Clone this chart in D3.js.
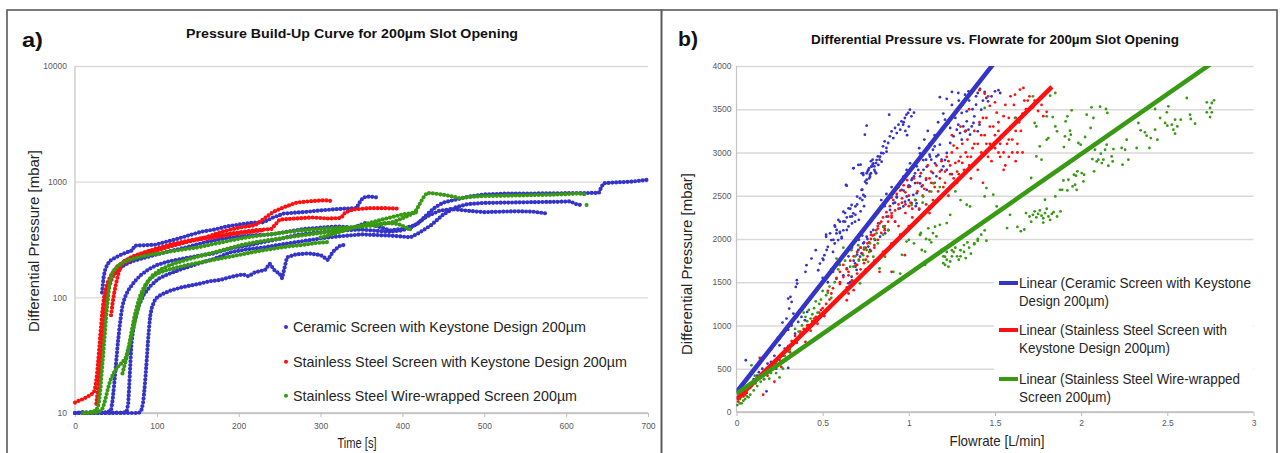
<!DOCTYPE html>
<html>
<head>
<meta charset="utf-8">
<script src="https://cdn.jsdelivr.net/npm/d3@7"></script>
<style>
  body { margin: 0; background: #fff; }
  svg { display: block; }
</style>
</head>
<body>
<svg id="fig" width="1280" height="453"></svg>
<script>
// ---------- shared ----------
const seriesNames = [
  "Ceramic Screen with Keystone Design 200µm",
  "Stainless Steel Screen with Keystone Design 200µm",
  "Stainless Steel Wire-wrapped Screen 200µm"
];
const trendNames = [
  ["Linear (Ceramic  Screen with Keystone", "Design 200µm)"],
  ["Linear (Stainless Steel Screen with", "Keystone Design 200µm)"],
  ["Linear (Stainless Steel Wire-wrapped", "Screen 200µm)"]
];
const seriesColors = ["#3434c8", "#ff1010", "#379a12"];

// ---------- panel a: pressure build-up (time [s], pressure [mbar]) ----------
const timeTicks = [0, 100, 200, 300, 400, 500, 600, 700];
const pressureTicks = [10, 100, 1000, 10000];

const ceramicRuns = [
  [[0,10],[10,10.2],[20,10],[30,10.1],[40,10],[50,10.1],[60,10],[70,10],[78,10],[81,10.5],[83,12],[84.5,15],[86,20],[87.5,28],[89,40],[90.5,55],[92,70],[94,82],[97,93],[101,101],[106,106],[116,114],[130,122],[150,130],[165,138],[177,141],[190,150],[205,158],[212,152],[220,165],[232,172],[238,195],[244,170],[250,160],[253,146],[256,180],[259,222],[270,235],[285,240],[300,232],[305,220],[309,210],[313,235],[317,256],[324,280],[330,285]],
  [[33,110],[35,150],[37,175],[40,195],[44,210],[50,222],[57,235],[63,245],[70,255],[73,280],[85,282],[98,285],[110,300],[125,320],[140,345],[155,370],[170,385],[185,410],[200,425],[215,440],[230,445],[242,490],[255,530],[270,540],[285,550],[300,565],[315,575],[330,585],[344,590],[347,650],[352,730],[360,745],[369,730]],
  [[0,10],[20,10],[35,10],[44,10.5],[46,13],[48,18],[50,26],[52,38],[54,52],[56,68],[58,85],[61,100],[65,115],[72,135],[80,155],[90,175],[100,190],[115,205],[130,215],[150,228],[170,240],[190,265],[210,280],[230,300],[250,320],[270,345],[290,360],[310,370],[330,380],[350,385],[370,375],[385,368],[400,380],[410,400],[420,440],[430,520],[440,600],[450,660],[465,700],[480,740],[500,775],[530,790],[560,790],[600,795],[640,800],[643,900],[646,970],[660,985],[680,1000],[700,1040]],
  [[0,10],[30,10],[55,10],[63,10.2],[65,12],[66,16],[67,22],[68,30],[69,40],[71,52],[74,68],[78,85],[84,105],[92,125],[102,145],[115,160],[130,175],[150,195],[170,215],[190,245],[210,260],[230,270],[250,285],[270,300],[290,315],[310,330],[330,340],[350,350],[370,345],[390,340],[410,330],[420,360],[435,420],[450,520],[465,600],[480,640],[500,655],[530,660],[560,665],[590,670],[605,675],[612,640],[617,630]],
  [[36,100],[40,125],[45,150],[52,170],[60,190],[70,205],[85,220],[100,235],[120,255],[140,275],[160,300],[180,320],[200,335],[220,345],[240,350],[260,370],[280,390],[300,400],[320,410],[340,400],[355,440],[370,410],[385,380],[400,390],[415,420],[430,500],[445,560],[460,580],[480,560],[500,545],[520,550],[540,555],[560,550],[577,530]]
];
const steelRuns = [
  [[0,12.3],[5,12.8],[10,13.2],[15,13.8],[20,14.5],[23,15],[25,17],[27,22],[29,32],[31,48],[33,70],[35,95],[37,115],[40,135],[45,160],[52,185],[60,205],[70,225],[85,245],[100,265],[120,290],[140,310],[160,330],[180,345],[200,365],[220,380],[240,390],[250,470],[270,480],[290,490],[310,480],[325,485],[330,540],[340,575],[360,590],[380,590],[395,585]],
  [[26,12],[28,16],[30,22],[32,32],[34,48],[36,70],[38,95],[41,120],[45,145],[50,170],[58,195],[70,215],[85,235],[100,255],[120,280],[140,305],[160,330],[180,370],[200,400],[220,420],[242,547],[255,600],[271,660],[290,680],[305,690],[315,680]],
  [[44,70],[46,90],[48,110],[50,130],[53,160],[56,190],[60,205],[66,215],[75,230],[90,250],[110,270],[130,295],[150,315],[170,330],[190,350],[210,365],[230,380]]
];
const wireRuns = [
  [[10,10],[14,10],[26,10.5],[29,12],[31,16],[33,24],[35,36],[37,55],[39,80],[41,110],[43,140],[46,165],[50,180],[56,195],[65,210],[75,220],[90,232],[110,245],[130,258],[150,270],[170,290],[190,310],[210,330],[230,345],[250,360],[270,375],[290,385],[310,395],[330,400],[350,410],[370,420],[390,450],[405,500],[415,540],[420,620],[425,720],[430,800],[440,790],[455,760],[470,720],[485,740],[500,750],[520,755],[540,760],[560,765],[580,770],[600,780],[615,790],[625,775]],
  [[625,630]],
  [[12,10],[20,10],[30,10.3],[34,11],[37,13],[40,16],[43,19],[47,22],[52,25],[57,27],[62,30],[66,38],[70,50],[74,65],[78,85],[83,110],[88,135],[95,155],[105,175],[120,195],[140,215],[160,235],[180,255],[200,280],[220,300],[240,315],[260,330],[280,345],[300,360],[320,380],[340,400],[360,420],[380,440],[395,430],[405,400],[412,380]],
  [[58,22],[60,25],[63,30],[66,38],[69,50],[72,65],[76,85],[80,105],[85,125],[92,145],[100,160],[112,172],[125,182],[140,192],[160,205],[180,218],[200,232],[220,248],[240,262],[260,275],[280,285],[295,295],[308,300]],
  [[300,330],[320,360],[340,400],[360,440],[380,480],[400,520],[418,545]]
];

// ---------- panel b: differential pressure vs flowrate ([L/min], [mbar]) ----------
const flowTicks = [0, 0.5, 1, 1.5, 2, 2.5, 3];
const dpTicks = [0, 500, 1000, 1500, 2000, 2500, 3000, 3500, 4000];

const ceramicFlow = [
  [0.02,180],[0.03,220],[0.04,260],[0.054,598],[0.06,300],[0.08,330],[0.10,380],[0.12,420],[0.13,460],[0.15,500],[0.174,239],[0.18,560],[0.20,578],[0.22,650],[0.23,501],[0.24,856],[0.25,771],[0.267,1034],[0.28,733],[0.29,1080],[0.30,1311],[0.30,509],[0.306,1196],[0.31,771],[0.313,1331],[0.32,1273],[0.33,1138],[0.34,906],[0.344,1446],[0.35,1524],[0.352,1485],[0.358,1041],[0.377,1099],[0.397,1061],[0.40,1620],[0.406,1697],[0.41,1157],[0.42,1003],[0.435,1774],[0.445,1041],[0.46,1871],[0.474,1639],[0.484,1716],[0.50,1774],[0.51,1813],[0.52,2025],[0.53,1909],[0.55,1987],[0.56,1851],[0.57,1948],[0.58,2064],[0.59,1987],[0.60,2083],[0.61,2025],
  [0.52,2049],[0.57,2157],[0.60,2200],[0.60,2068],[0.62,2203],[0.63,2300],[0.64,2616],[0.65,2145],[0.67,2260],[0.68,2820],[0.69,2377],[0.70,2490],[0.71,2222],[0.72,2859],[0.73,2570],[0.735,2762],[0.745,3206],[0.755,3310],[0.745,2492],[0.755,2685],[0.764,2800],[0.774,2743],[0.783,2840],[0.79,2917],[0.80,2800],[0.81,2878],[0.82,2955],[0.83,2917],[0.84,2994],[0.85,3071],[0.86,3129],[0.87,3052],[0.88,3110],[0.886,3437],[0.89,3187],[0.90,3245],[0.91,3167],[0.92,3283],[0.93,3225],[0.94,3322],[0.95,3264],[0.957,3360],[0.967,3322],[0.977,3399],[0.986,3437],[0.996,3457],[1.006,3495],[1.015,3418],[0.97,3350],[0.98,3250],[0.99,3200],[1.0,3300],[1.03,3460],
  [0.76,2780],[0.77,2820],[0.78,2760],[0.79,2860],[0.80,2840],[0.77,2700],[0.81,2760],[0.78,2900],
  [0.62,2100],[0.64,2250],[0.66,2350],[0.67,2180],[0.69,2280],[0.70,2400],[0.72,2320],[0.73,2450],[0.74,2380],
  [0.56,1620],[0.58,1540],[0.60,1700],[0.62,1580],[0.64,1660],[0.66,1500],[0.68,1750],[0.70,1820],[0.72,1900],[0.74,1960],[0.76,2000],[0.78,2080],[0.65,1800],[0.67,1900],[0.69,1680],[0.71,1990],[0.73,2040],
  [0.84,2450],[0.87,2520],[0.90,2600],[0.93,2480],[0.95,2650],[0.97,2560],[1.0,2620],[1.02,2700],[0.86,2380],[0.92,2420],
  [1.14,3032],[1.16,2955],[1.13,2917],[1.10,2917],[1.12,2975],[1.18,3090],[1.19,2917],[1.085,2800],[1.065,2724],[1.03,2724],[1.046,2840],[1.007,2608],[1.036,2647],[1.075,2608],[0.988,2492],[1.016,2415],[0.968,2377],[1.046,2530],[1.10,2685],[1.14,2762],[1.16,2724],[1.20,2840],[1.22,2994],[1.24,3110],[1.21,3380],[1.23,3341],[1.24,3283],[1.26,3187],[1.278,3264],[1.287,3322],[1.297,3225],[1.307,3148],[1.316,3302],[1.326,3245],[1.336,3360],[1.346,3264],[1.355,3206],[1.365,3302],[1.375,3341],[1.278,3495],[1.307,3457],[1.336,3476],[1.287,3688],[1.326,3669],[1.346,3707],[1.40,3688],[1.413,3735],[1.45,3630],[1.46,3592],[1.50,3707],[1.53,3688],[1.39,3553],[1.42,3495],[1.38,3418],[1.41,3322],[1.40,3245],[1.12,3100],[1.15,3070],[1.22,2800],[1.25,2750],[1.00,2450],[1.04,2380],[1.06,2340],[1.22,3620],[1.25,3700],[1.18,3640],
  [0.504,1758],[0.523,1873],[0.543,2066],[0.562,1989],[0.572,2143],[0.581,2104],[0.591,2220],[0.61,2008],[0.62,2316],[0.63,2200],[0.64,2104],[0.65,2355],[0.66,2258],[0.668,2393],[0.678,2297],[0.688,2200],[0.635,2624],[0.678,2817],[0.707,2856],[0.717,2470],[0.726,2567],[0.736,2509],[0.746,2663],[0.736,2740],[0.755,2759],[0.765,2798],[0.775,2721],[0.784,2836],[0.794,2875],[0.804,2779],[0.813,2913],[0.823,2856],[0.833,2952],[0.842,2894],[0.852,2990],[0.871,3010],[0.726,2759],[0.755,2644],
  [0.668,1565],[0.688,1719],[0.707,1873],[0.717,1796],[0.736,1950],[0.755,2027],[0.775,1873],[0.794,2104],[0.823,2181],[0.852,2143],[0.871,2258],[0.891,2335],[0.910,2413],[0.93,2490],[0.958,2567],[0.978,2432],[0.997,2605],[1.016,2682],[1.036,2759],[1.055,2798],[1.065,2644],[1.084,2913],[1.104,2836],[1.123,2952],[1.152,2875],[1.171,2971],[1.19,2798],[1.21,2913],[0.968,2721],[0.987,2798],[1.007,2875],[1.026,2509],[1.045,2413],[1.065,2990],[1.104,2567],[0.949,2355],[0.92,2200],[0.697,1642],[0.726,1835],[0.765,1912],[0.804,1989],[0.833,2027],[0.862,2066],[0.881,2104],[0.649,1488],[0.717,1565],
  [0.15,600],[0.18,680],[0.2,720],[0.22,800],[0.25,850],[0.27,900],[0.3,950],[0.32,1000],[0.35,1100],[0.38,1180],[0.4,1250],[0.42,1300],[0.45,1380],[0.48,1450],[0.5,1550],[0.53,1500],[0.55,1650],[0.58,1720],
  [1.15,3200],[1.17,3350],[1.19,3250],[1.2,3450],[1.25,3550],[1.27,3400],[1.29,3600],[1.31,3550],[1.33,3250],[1.35,3600],[1.37,3500],[1.39,3650],[1.43,3600],[1.44,3700],[1.48,3650],[1.52,3720],[1.09,3150],[1.11,3250],[1.06,3050]
];
const steelFlow = [
  [0.01,120],[0.015,180],[0.02,160],[0.03,200],[0.04,180],[0.05,250],[0.06,220],[0.07,300],[0.08,280],[0.09,330],[0.11,350],[0.13,400],[0.135,625],[0.15,450],[0.155,200],[0.16,380],[0.18,420],[0.19,480],[0.21,520],[0.22,350],[0.23,560],[0.25,600],[0.26,520],[0.28,700],[0.30,760],[0.31,690],[0.32,820],[0.34,880],[0.35,800],[0.36,850],[0.38,900],[0.39,960],[0.40,950],[0.40,810],[0.42,1000],[0.43,940],[0.44,1050],[0.46,1100],[0.47,1020],[0.48,1150],[0.50,1200],[0.51,1110],[0.52,1250],[0.53,1400],[0.54,1300],[0.55,1370],[0.56,1430],[0.57,1280],[0.58,1550],[0.60,1620],[0.60,1500],[0.62,1700],[0.64,1650],[0.64,1292],[0.65,1370],[0.65,1580],[0.66,1750],[0.68,1800],[0.68,1408],[0.70,1850],[0.70,1700],[0.72,1900],[0.74,1880],[0.75,1760],[0.76,1950],[0.78,2000],[0.80,2050],[0.80,1900],[0.82,2120],[0.83,1620],[0.84,2200],[0.86,2150],[0.88,2260],[0.90,1620],[0.90,2300],[0.92,2200],[0.94,2350],[0.967,2044],[0.977,1813],[0.96,2420],[0.98,2300],[1.00,2380],[1.00,2500],[1.02,2250],[1.04,2450],[1.05,2550],[1.06,2350],[1.08,2500],[1.08,2620],[1.10,2400],[1.10,2700],[1.12,2550],[1.13,2780],[1.14,2450],[1.15,2650],[1.16,2850],[1.17,2550],[1.18,2700],[1.19,2900],[1.20,2600],[1.21,2780],[1.22,2950],[1.23,2500],[1.24,2850],[1.25,3000],[1.26,2700],[1.27,2880],[1.28,3050],[1.29,2750],[1.30,2950],[1.31,3100],[1.32,2800],[1.33,3000],[1.34,3150],[1.35,2850],[1.36,2700],[1.37,3050],[1.38,3250],[1.39,2900],[1.40,3100],[1.41,3350],[1.42,3000],[1.43,2650],[1.44,3200],[1.45,3400],[1.46,2950],[1.47,3100],[1.48,2900],[1.49,3300],[1.50,3050],[1.51,3460],[1.52,3000],[1.53,2950],[1.54,3200],[1.55,3420],[1.56,2850],[1.57,3100],[1.58,2950],[1.59,3300],[1.60,3000],[1.61,3550],[1.62,2900],[1.63,3100],[1.64,3350],[1.645,3727],[1.665,3746],[1.616,3669],[1.66,3450],[1.69,3600],[1.72,3520],[1.75,3480],[1.77,3550],[1.78,3420],[1.80,3470],[1.41,3720],[1.44,3680],[1.47,3540],[1.50,3580],[1.66,3000],[1.55,2800],[1.35,3500],[1.30,3300],[1.25,3200],
  [0.78,2050],[0.82,2150],[0.86,2100],[0.90,2250],[0.94,2150],[0.98,2400],[1.02,2350],[1.12,2300],[1.28,2650],[1.52,3250],[1.58,3150],[1.62,3250],
  [0.60,1480],[0.62,1560],[0.64,1440],[0.65,1620],[0.67,1520],[0.69,1690],[0.70,1600],[0.71,1760],[0.72,1650],[0.73,1830],[0.74,1720],[0.75,1900],[0.76,1800],[0.77,1960],[0.78,1860],[0.79,2040],[0.80,1930],[0.81,2100],[0.82,1990],[0.83,2180],[0.84,2070],[0.85,2250],[0.86,2120],[0.87,2310],[0.88,2200],[0.89,2380],[0.90,2270],[0.91,2450],[0.92,2330],[0.93,2520],[0.94,2400],[0.95,2560],[0.96,2470],[0.97,2620],[0.98,2540],[0.99,2680],[1.00,2600],[1.01,2420],[1.03,2700],[1.05,2650],[1.07,2760],[1.09,2580],[1.11,2850],[1.13,2650],[0.70,2000],[0.74,2100],[0.78,2200],[0.82,2300],[0.86,2400],[0.90,2480],[0.94,2600],[0.80,1750],[0.85,1850],[0.90,1950],[0.95,2050],[1.00,2150],[0.75,1650],[0.68,1500],[0.62,1380],[0.66,1450],
  [0.05,200],[0.08,300],[0.12,380],[0.17,470],[0.2,500],[0.24,620],[0.27,650],[0.33,800],[0.37,930],[0.41,1000],[0.45,1080],[0.49,1180],
  [1.21,2650],[1.23,2900],[1.26,3080],[1.28,2780],[1.31,2880],[1.33,3250],[1.36,2950],[1.38,3100],[1.40,2800],[1.42,3200],[1.43,3400],[1.45,3100],[1.47,3300],[1.48,3050],[1.50,3200],[1.52,3350],[1.53,3100],[1.55,3000],[1.57,3250],[1.58,3400],[1.60,3150],[1.62,3400],[1.63,3000],[1.65,3250],[1.67,3600],[1.68,3500],[1.70,3650],[1.73,3600],[1.56,3550],[1.59,3650],[1.46,3650],[1.34,2950],[1.29,2900],[1.24,2750],[1.18,2780],[1.15,2600],[1.12,2700]
];
const wireFlow = [
  [0.005,80],[0.01,150],[0.02,100],[0.02,150],[0.03,100],[0.04,130],[0.05,150],[0.06,180],[0.07,170],[0.08,200],[0.087,540],[0.10,250],[0.106,420],[0.12,300],[0.14,350],[0.19,385],[0.23,450],[0.25,400],[0.26,578],[0.27,500],[0.30,700],[0.32,780],[0.34,960],[0.36,930],[0.38,1000],[0.39,1150],[0.40,1100],[0.42,1180],[0.43,1080],[0.44,1130],[0.45,1200],[0.46,1280],[0.47,1150],[0.48,1250],[0.50,1400],[0.52,1350],[0.54,1450],[0.55,1320],[0.58,1774],[0.60,1700],[0.62,1900],[0.667,1871],[0.706,1929],[0.735,1813],[0.764,1736],[0.83,1660],[0.91,1620],[0.95,1600],[0.96,1817],[1.0,1990],[1.03,1950],[1.065,2049],[1.07,2070],[1.094,1855],[1.10,2000],[1.12,1990],[1.13,1960],[1.14,2068],[1.16,2030],[1.18,2164],
  [0.59,1650],[0.63,1750],[0.66,1680],[0.69,1800],[0.71,1750],[0.74,1900],[0.77,1850],[0.80,2000],[0.82,1950],[0.85,2050],[0.88,2100],[1.18,2600],[1.27,2550],[1.30,2450],[1.08,2420],[1.12,2380],
  [1.016,2393],[1.036,2451],[1.084,2490],[1.13,2548],[1.142,2644],[0.968,2066],[0.987,1970],[1.065,2047],[1.113,2123],[0.852,2143],[0.813,2066],[0.794,1796],[0.775,1950],[0.755,1873],[0.736,1758],[0.871,1873],[0.678,1680],[0.717,1488],[0.862,1796],[0.93,1989],[1.075,1873],[1.152,2143],[1.19,1873],[1.21,1796],[1.094,1700],
  [0.03,180],[0.06,250],[0.09,300],[0.11,330],[0.16,380],[0.2,450],[0.28,650],[0.31,720],[0.35,850],[0.37,900],[0.41,1050],[0.49,1300],[0.53,1380],[0.57,1500],
  [1.20,1720],[1.20,1800],[1.21,1700],[1.22,1760],[1.22,2184],[1.22,1850],[1.23,1680],[1.24,1740],[1.24,2280],[1.25,1800],[1.25,1870],[1.26,1850],[1.27,1900],[1.28,1800],[1.29,1760],[1.30,1870],[1.30,1800],[1.32,1930],[1.32,1850],[1.33,1780],[1.34,1960],[1.336,2396],[1.35,1900],[1.355,2377],[1.36,1830],[1.38,1940],[1.38,1950],[1.40,1980],[1.40,2000],[1.42,2050],[1.44,2100],[1.44,2492],[1.44,3515],[1.45,2589],[1.45,1980],[1.49,2512],[1.51,2377],[1.57,2126],[1.587,2280],[1.616,3399],[1.63,2140],[1.65,2090],[1.655,3418],[1.67,2110],[1.68,2300],[1.70,2260],[1.71,2200],[1.71,2705],[1.72,2280],[1.72,3650],[1.73,2320],[1.73,3341],[1.74,2250],[1.74,3302],[1.74,2955],[1.75,2290],[1.76,2330],[1.76,3071],[1.77,2270],[1.77,2917],[1.78,2240],[1.78,2190],[1.79,2300],[1.79,2454],[1.80,2350],[1.80,3418],[1.80,3148],[1.81,2260],[1.81,3167],[1.82,3657],[1.82,2220],[1.83,2290],[1.835,3410],[1.84,2310],[1.85,3688],[1.85,3302],[1.85,2492],[1.86,2260],[1.86,3245],[1.877,2569],
  [1.88,2319],[1.89,2569],[1.897,2677],[1.90,3063],[1.906,3187],[1.91,3360],[1.92,3418],[1.92,2562],[1.926,2685],[1.93,3148],[1.935,3252],[1.94,3206],[1.945,3488],[1.95,2608],[1.958,2743],[1.965,2627],[1.97,2731],[1.974,2569],[1.978,2782],[1.984,3110],[1.997,3090],[2.003,2762],[2.013,2666],[2.017,2743],[2.023,3179],[2.032,3437],[2.042,3032],[2.055,3283],[2.06,3522],[2.065,2924],[2.071,3399],[2.075,2782],[2.08,3032],[2.09,2897],[2.10,2917],[2.11,3530],[2.114,2986],[2.12,2878],[2.129,2917],[2.139,3032],[2.144,3503],[2.148,3090],[2.152,3457],[2.158,2847],[2.177,2955],[2.183,2897],[2.187,3040],[2.235,3052],[2.24,2859],[2.255,3032],[2.264,3148],[2.274,2917],[2.322,3052],[2.332,3341],[2.345,3256],[2.37,3233],[2.38,3194],[2.396,3052],[2.404,3167],[2.429,3503],[2.429,3264],[2.442,3148],[2.458,3399],[2.487,3341],[2.497,3465],[2.506,3534],[2.50,3310],[2.526,3322],[2.535,3264],[2.545,3380],[2.545,3218],[2.558,3302],[2.578,3380],[2.613,3630],[2.632,3437],[2.636,3387],[2.661,3333],[2.729,3580],[2.729,3465],[2.748,3515],[2.748,3410],[2.758,3572],[2.758,3465],[2.771,3603]
];

// linear trend lines: dp = intercept + slope * flow, drawn over each series' flow range
const trendSlopes = [2545, 1975, 1385];
const trendIntercepts = [230, 145, 212];
const trendFlowMax = [1.55, 1.83, 2.78];

// ---------- drawing ----------
const svg = d3.select("#fig");
const FONT = "'Liberation Sans Narrow', 'Liberation Sans', Arial, sans-serif";
const FONT_W = "'Liberation Sans', Arial, sans-serif";

function text(g, str, x, y, o = {}) {
  const t = g.append("text")
    .attr("x", x).attr("y", y)
    .attr("font-family", o.family || FONT)
    .attr("font-size", o.size || 13)
    .attr("font-weight", o.weight || "normal")
    .attr("fill", o.fill || "#1a1a1a")
    .attr("text-anchor", o.anchor || "start")
    .text(str);
  if (o.len) t.attr("textLength", o.len).attr("lengthAdjust", "spacingAndGlyphs");
  if (o.rotate) t.attr("transform", `rotate(${o.rotate},${x},${y})`);
  return t;
}

// panel frames
svg.append("rect").attr("width", 1280).attr("height", 453).attr("fill", "#fff");
const frame = svg.append("g").attr("fill", "none").attr("stroke", "#5a5a5a").attr("stroke-width", 1.6);
frame.append("rect").attr("x", 7).attr("y", 10).attr("width", 654.5).attr("height", 470);
frame.append("rect").attr("x", 661.5).attr("y", 10).attr("width", 615.5).attr("height", 470);

function styleAxis(g, gridColor) {
  g.selectAll(".domain").remove();
  g.selectAll(".tick line").attr("stroke", gridColor).attr("stroke-width", 1.3);
  g.selectAll(".tick text").attr("font-family", FONT_W).attr("font-size", 8.5).attr("fill", "#595959");
}

// ===== panel a =====
const A = svg.append("g");
const ax = d3.scaleLinear().domain([0, 700]).range([75, 648]);
const ay = d3.scaleLog().domain([10, 10000]).range([413, 66]);

A.append("g").attr("transform", "translate(75,0)")
  .call(d3.axisLeft(ay).tickValues(pressureTicks).tickFormat(d3.format("d"))
    .tickSize(-(648 - 75)).tickPadding(8))
  .call(g => styleAxis(g, "#d9d9d9"));
A.append("line").attr("x1", 75).attr("x2", 75).attr("y1", 66).attr("y2", 413)
  .attr("stroke", "#c4c4c4").attr("stroke-width", 1.2);
A.append("g").attr("transform", "translate(0,413)")
  .call(d3.axisBottom(ax).tickValues(timeTicks).tickSize(4).tickPadding(6))
  .call(g => { styleAxis(g, "#bdbdbd"); g.selectAll(".tick line").attr("stroke-width", 1); })
  .append("line").attr("x1", 75).attr("x2", 648).attr("stroke", "#bdbdbd").attr("stroke-width", 1.3);

const runLine = d3.line().x(d => ax(d[0])).y(d => ay(d[1])).curve(d3.curveLinear);
const runGroups = [ceramicRuns, steelRuns, wireRuns];
runGroups.forEach((runs, i) => {
  const g = A.append("g");
  runs.forEach(run => {
    if (run.length === 1) {
      g.append("circle").attr("cx", ax(run[0][0])).attr("cy", ay(run[0][1]))
        .attr("r", 2).attr("fill", seriesColors[i]);
      return;
    }
    g.append("path").attr("d", runLine(run)).attr("fill", "none")
      .attr("stroke", seriesColors[i]).attr("stroke-width", 4.2)
      .attr("stroke-linecap", "round").attr("stroke-linejoin", "round")
      .attr("stroke-dasharray", "0 3.8");
  });
});

// legend a
const legA = A.append("g");
const legARows = [327, 361.7, 395.7];
const legALens = [293, 334, 284];
seriesNames.forEach((name, i) => {
  legA.append("circle").attr("cx", 286).attr("cy", legARows[i]).attr("r", 2).attr("fill", seriesColors[i]);
  text(legA, name, 293, legARows[i] + 5, { size: 14.5, len: legALens[i], fill: "#262626" });
});

text(A, "a)", 22, 47, { size: 21, weight: "bold", len: 21, fill: "#111" });
text(A, "Pressure Build-Up Curve for 200µm Slot Opening", 352, 38,
  { size: 12.5, weight: "bold", anchor: "middle", len: 332, fill: "#111" });
text(A, "Time [s]", 357, 448, { size: 15, anchor: "middle", len: 39, fill: "#262626" });
text(A, "Differential  Pressure [mbar]", 39, 241,
  { size: 15, anchor: "middle", len: 182, rotate: -90, fill: "#262626" });

// ===== panel b =====
const B = svg.append("g");
const bx = d3.scaleLinear().domain([0, 3]).range([736.5, 1253.5]);
const by = d3.scaleLinear().domain([0, 4000]).range([412, 66]);

B.append("g").attr("transform", "translate(736.5,0)")
  .call(d3.axisLeft(by).tickValues(dpTicks).tickFormat(d3.format("d"))
    .tickSize(-(1253.5 - 736.5)).tickPadding(5))
  .call(g => styleAxis(g, "#d9d9d9"));
B.append("line").attr("x1", 736.5).attr("x2", 736.5).attr("y1", 66).attr("y2", 412)
  .attr("stroke", "#c4c4c4").attr("stroke-width", 1.2);
B.append("g").attr("transform", "translate(0,412)")
  .call(d3.axisBottom(bx).tickValues(flowTicks).tickFormat(d3.format("~g")).tickSize(4).tickPadding(4))
  .call(g => { styleAxis(g, "#bdbdbd"); g.selectAll(".tick line").attr("stroke-width", 1); })
  .append("line").attr("x1", 736.5).attr("x2", 1253.5).attr("stroke", "#bdbdbd").attr("stroke-width", 1.3);

B.append("clipPath").attr("id", "plotB").append("rect")
  .attr("x", 736.5).attr("y", 66).attr("width", 517).attr("height", 346);

const pointSets = [ceramicFlow, steelFlow, wireFlow];
pointSets.forEach((pts, i) => {
  B.append("g").selectAll("circle").data(pts).join("circle")
    .attr("cx", d => bx(d[0])).attr("cy", d => by(d[1]))
    .attr("r", 1.4).attr("fill", seriesColors[i]);
});

const trendG = B.append("g").attr("clip-path", "url(#plotB)");
trendSlopes.forEach((m, i) => {
  const pts = [[0, trendIntercepts[i]], [trendFlowMax[i], trendIntercepts[i] + m * trendFlowMax[i]]];
  trendG.append("path")
    .attr("d", d3.line().x(d => bx(d[0])).y(d => by(d[1]))(pts))
    .attr("stroke", seriesColors[i]).attr("stroke-width", 4.5).attr("fill", "none");
});

// legend b
const legB = B.append("g");
legB.append("rect").attr("x", 994).attr("y", 262).attr("width", 259).attr("height", 146).attr("fill", "#fff");
const legBRows = [283, 330, 379];
const legBLens = [[232, 90], [208, 151], [221, 92]];
trendNames.forEach((lines, i) => {
  legB.append("line").attr("x1", 999).attr("x2", 1018)
    .attr("y1", legBRows[i]).attr("y2", legBRows[i])
    .attr("stroke", seriesColors[i]).attr("stroke-width", 4);
  lines.forEach((ln, j) => {
    text(legB, ln, 1019, legBRows[i] + 5 + j * 17.8, { size: 14, len: legBLens[i][j], fill: "#262626" });
  });
});

text(B, "b)", 678, 46, { size: 21, weight: "bold", len: 20, fill: "#111" });
text(B, "Differential  Pressure vs. Flowrate for 200µm Slot Opening", 995, 44,
  { size: 12.5, weight: "bold", anchor: "middle", len: 368, fill: "#111" });
text(B, "Flowrate  [L/min]", 997, 446, { size: 15, anchor: "middle", len: 95, fill: "#262626" });
text(B, "Differential  Pressure [mbar]", 692, 264,
  { size: 15, anchor: "middle", len: 182, rotate: -90, fill: "#262626" });
</script>
</body>
</html>
